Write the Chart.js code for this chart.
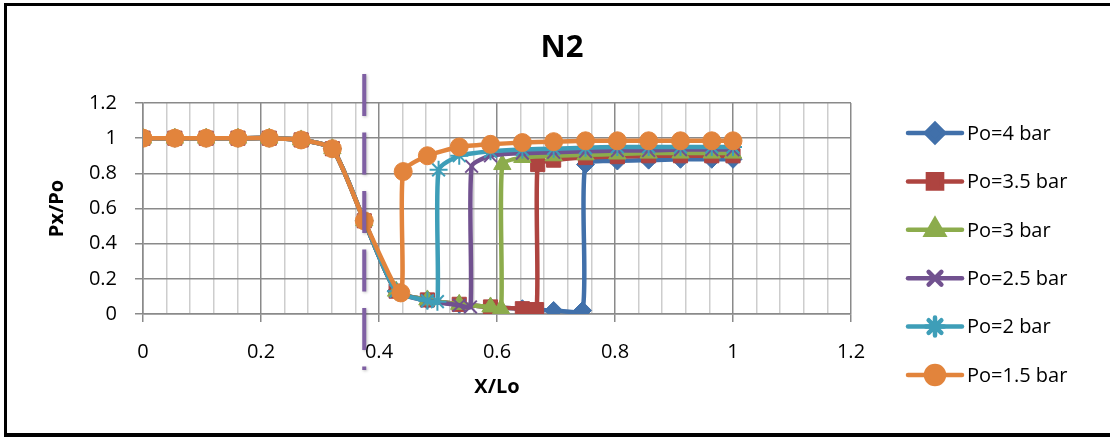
<!DOCTYPE html>
<html>
<head>
<meta charset="utf-8">
<title>N2</title>
<script src="https://cdn.jsdelivr.net/npm/chart.js@4.4.1/dist/chart.umd.min.js"></script>
<style>
  html, body { margin: 0; padding: 0; background: #fff; }
  #wrap { position: relative; width: 1110px; height: 437px; }
</style>
</head>
<body>
<div id="wrap"><canvas id="n2Chart" width="1110" height="437"></canvas></div>
<script>
// Pressure ratio along the nozzle for each supply pressure
const seriesNames = ['Po=4 bar', 'Po=3.5 bar', 'Po=3 bar', 'Po=2.5 bar', 'Po=2 bar', 'Po=1.5 bar'];

const xPo4   = [0, 0.054, 0.107, 0.161, 0.214, 0.268, 0.321, 0.375, 0.429, 0.482, 0.536, 0.589, 0.643, 0.696, 0.745, 0.75, 0.804, 0.857, 0.911, 0.964, 1];
const yPo4   = [1, 1, 1, 1, 1, 0.99, 0.94, 0.53, 0.13, 0.08, 0.055, 0.04, 0.03, 0.02, 0.02, 0.85, 0.87, 0.875, 0.88, 0.88, 0.88];

const xPo3_5 = [0, 0.054, 0.107, 0.161, 0.214, 0.268, 0.321, 0.375, 0.429, 0.482, 0.536, 0.589, 0.643, 0.667, 0.669, 0.696, 0.75, 0.804, 0.857, 0.911, 0.964, 1];
const yPo3_5 = [1, 1, 1, 1, 1, 0.99, 0.94, 0.53, 0.13, 0.08, 0.055, 0.04, 0.03, 0.025, 0.85, 0.875, 0.89, 0.895, 0.9, 0.9, 0.9, 0.9];

const xPo3   = [0, 0.054, 0.107, 0.161, 0.214, 0.268, 0.321, 0.375, 0.429, 0.482, 0.536, 0.589, 0.607, 0.609, 0.643, 0.696, 0.75, 0.804, 0.857, 0.911, 0.964, 1];
const yPo3   = [1, 1, 1, 1, 1, 0.99, 0.94, 0.53, 0.13, 0.08, 0.055, 0.04, 0.03, 0.85, 0.89, 0.9, 0.905, 0.91, 0.915, 0.915, 0.915, 0.915];

const xPo2_5 = [0, 0.054, 0.107, 0.161, 0.214, 0.268, 0.321, 0.375, 0.429, 0.482, 0.536, 0.555, 0.557, 0.589, 0.643, 0.696, 0.75, 0.804, 0.857, 0.911, 0.964, 1];
const yPo2_5 = [1, 1, 1, 1, 1, 0.99, 0.94, 0.53, 0.13, 0.075, 0.05, 0.04, 0.84, 0.9, 0.915, 0.92, 0.925, 0.93, 0.93, 0.935, 0.935, 0.935];

const xPo2   = [0, 0.054, 0.107, 0.161, 0.214, 0.268, 0.321, 0.375, 0.429, 0.482, 0.499, 0.501, 0.536, 0.589, 0.643, 0.696, 0.75, 0.804, 0.857, 0.911, 0.964, 1];
const yPo2   = [1, 1, 1, 1, 1, 0.99, 0.94, 0.53, 0.13, 0.075, 0.07, 0.82, 0.9, 0.925, 0.935, 0.94, 0.945, 0.95, 0.95, 0.95, 0.95, 0.95];

const xPo1_5 = [0, 0.054, 0.107, 0.161, 0.214, 0.268, 0.321, 0.375, 0.437, 0.441, 0.482, 0.536, 0.589, 0.643, 0.696, 0.75, 0.804, 0.857, 0.911, 0.964, 1];
const yPo1_5 = [1, 1, 1, 1, 1, 0.99, 0.94, 0.53, 0.12, 0.81, 0.9, 0.95, 0.965, 0.975, 0.98, 0.985, 0.985, 0.985, 0.985, 0.985, 0.985];

// axis ranges and the throat position marked by the dashed line
const xTicks = { min: 0, max: 1.2, step: 0.04, labelStep: 0.2 };
const yTicks = { min: 0, max: 1.2, step: 0.2 };
const throatX = 0.375;

const seriesX = [xPo4, xPo3_5, xPo3, xPo2_5, xPo2, xPo1_5];
const seriesY = [yPo4, yPo3_5, yPo3, yPo2_5, yPo2, yPo1_5];

const colors = ['#4170AA', '#AE4440', '#8CAC4C', '#71518F', '#3E9EB8', '#E2843C'];
const markers = [
    { style: 'rectRot', radius: 9, border: 1 },
    { style: 'rect', radius: 10, border: 1 },
    { style: 'triangle', radius: 10, border: 1 },
    { style: 'crossRot', radius: 9, border: 2 },
    { style: 'star', radius: 9, border: 2 },
    { style: 'circle', radius: 9, border: 1 }
];

const FONT = "'Open Sans', 'DejaVu Sans', sans-serif";
const MAJOR_GRID = '#8a8a8a';
const MINOR_GRID = '#cdcdcd';

function isMajor(v) {
    const r = v / xTicks.labelStep;
    return Math.abs(r - Math.round(r)) < 1e-6;
}

// later series are painted over earlier ones (lower order = drawn on top)
const datasets = seriesNames.map((name, i) => ({
    label: name,
    order: seriesNames.length - i,
    data: seriesX[i].map((x, j) => ({ x: x, y: seriesY[i][j] })),
    borderColor: colors[i],
    backgroundColor: colors[i],
    borderWidth: 4.5,
    tension: 0.2,
    pointStyle: markers[i].style,
    pointRadius: markers[i].radius,
    pointBorderWidth: markers[i].border,
    pointBackgroundColor: colors[i],
    pointBorderColor: colors[i],
    pointHoverRadius: markers[i].radius
}));

// white page with the black frame
const framePlugin = {
    id: 'frame',
    beforeDraw(chart) {
        const ctx = chart.ctx;
        ctx.save();
        ctx.fillStyle = '#fff';
        ctx.fillRect(0, 0, chart.width, chart.height);
        ctx.fillStyle = '#000';
        ctx.fillRect(4, 3, chart.width - 4, 3);
        ctx.fillRect(4, 3, 3, 434);
        ctx.fillRect(4, 433, chart.width - 4, 4);
        ctx.restore();
    }
};

// dashed vertical marker at the throat
const throatPlugin = {
    id: 'throatLine',
    afterDatasetsDraw(chart) {
        const ctx = chart.ctx;
        const area = chart.chartArea;
        const px = chart.scales.x.getPixelForValue(throatX);
        ctx.save();
        ctx.strokeStyle = '#7F5FA3';
        ctx.lineWidth = 4;
        ctx.setLineDash([42, 16.5]);
        ctx.shadowColor = 'rgba(0,0,0,0.25)';
        ctx.shadowBlur = 3;
        ctx.shadowOffsetX = 1;
        ctx.shadowOffsetY = 1;
        ctx.beginPath();
        ctx.moveTo(px, area.top - 29);
        ctx.lineTo(px, area.bottom + 56);
        ctx.stroke();
        ctx.restore();
    }
};

// chart title and line+marker legend on the right
const decorPlugin = {
    id: 'decor',
    afterDraw(chart) {
        const ctx = chart.ctx;
        ctx.save();
        ctx.fillStyle = '#000';
        ctx.font = 'bold 31px ' + FONT;
        ctx.textAlign = 'center';
        ctx.textBaseline = 'middle';
        ctx.fillText('N2', 562, 48);

        const x0 = 908, x1 = 962, mx = 935, tx = 967;
        chart.data.datasets.forEach((ds, i) => {
            const y = 133 + i * 48.4;
            ctx.strokeStyle = ds.borderColor;
            ctx.lineWidth = 4.5;
            ctx.lineCap = 'round';
            ctx.beginPath();
            ctx.moveTo(x0, y);
            ctx.lineTo(x1, y);
            ctx.stroke();
            ctx.fillStyle = ds.borderColor;
            Chart.helpers.drawPoint(ctx, {
                pointStyle: ds.pointStyle,
                radius: ds.pointRadius,
                rotation: 0,
                borderWidth: ds.pointBorderWidth
            }, mx, y);
            ctx.fillStyle = '#000';
            ctx.font = '20px ' + FONT;
            ctx.textAlign = 'left';
            ctx.textBaseline = 'middle';
            ctx.fillText(ds.label, tx, y + 1);
        });
        ctx.restore();
    }
};

new Chart(document.getElementById('n2Chart'), {
    type: 'line',
    data: { datasets: datasets },
    options: {
        responsive: false,
        animation: false,
        events: [],
        layout: { padding: { left: 41, top: 103, right: 259, bottom: 30 } },
        plugins: {
            legend: { display: false },
            title: { display: false },
            tooltip: { enabled: false }
        },
        scales: {
            x: {
                type: 'linear',
                min: xTicks.min,
                max: xTicks.max,
                afterFit: s => { s.height = 93; },
                afterBuildTicks: s => {
                    const ticks = [];
                    const n = Math.round((xTicks.max - xTicks.min) / xTicks.step);
                    for (let k = 0; k <= n; k++) ticks.push({ value: +(xTicks.min + k * xTicks.step).toFixed(4) });
                    s.ticks = ticks;
                },
                ticks: {
                    autoSkip: false,
                    maxRotation: 0,
                    padding: 18,
                    color: '#000',
                    font: { family: FONT, size: 20 },
                    callback: v => isMajor(v) ? String(Math.round(v * 10) / 10) : ''
                },
                grid: {
                    color: c => isMajor(c.tick.value) ? MAJOR_GRID : MINOR_GRID,
                    tickColor: c => isMajor(c.tick.value) ? MAJOR_GRID : 'rgba(0,0,0,0)',
                    lineWidth: 1.5,
                    tickLength: 8
                },
                border: { color: MAJOR_GRID, width: 1.5 },
                title: {
                    display: true,
                    text: 'X/Lo',
                    color: '#000',
                    font: { family: FONT, size: 20, weight: 'bold' },
                    padding: { top: 0, bottom: 8 }
                }
            },
            y: {
                min: yTicks.min,
                max: yTicks.max,
                afterFit: s => { s.width = 102; },
                ticks: {
                    stepSize: yTicks.step,
                    padding: 18,
                    color: '#000',
                    font: { family: FONT, size: 20 },
                    callback: v => String(Math.round(v * 10) / 10)
                },
                grid: { color: MAJOR_GRID, lineWidth: 1.5, tickLength: 8 },
                border: { color: MAJOR_GRID, width: 1.5 },
                title: {
                    display: true,
                    text: 'Px/Po',
                    color: '#000',
                    font: { family: FONT, size: 20, weight: 'bold' },
                    padding: { top: 4, bottom: 0 }
                }
            }
        }
    },
    plugins: [framePlugin, throatPlugin, decorPlugin]
});
</script>
</body>
</html>
